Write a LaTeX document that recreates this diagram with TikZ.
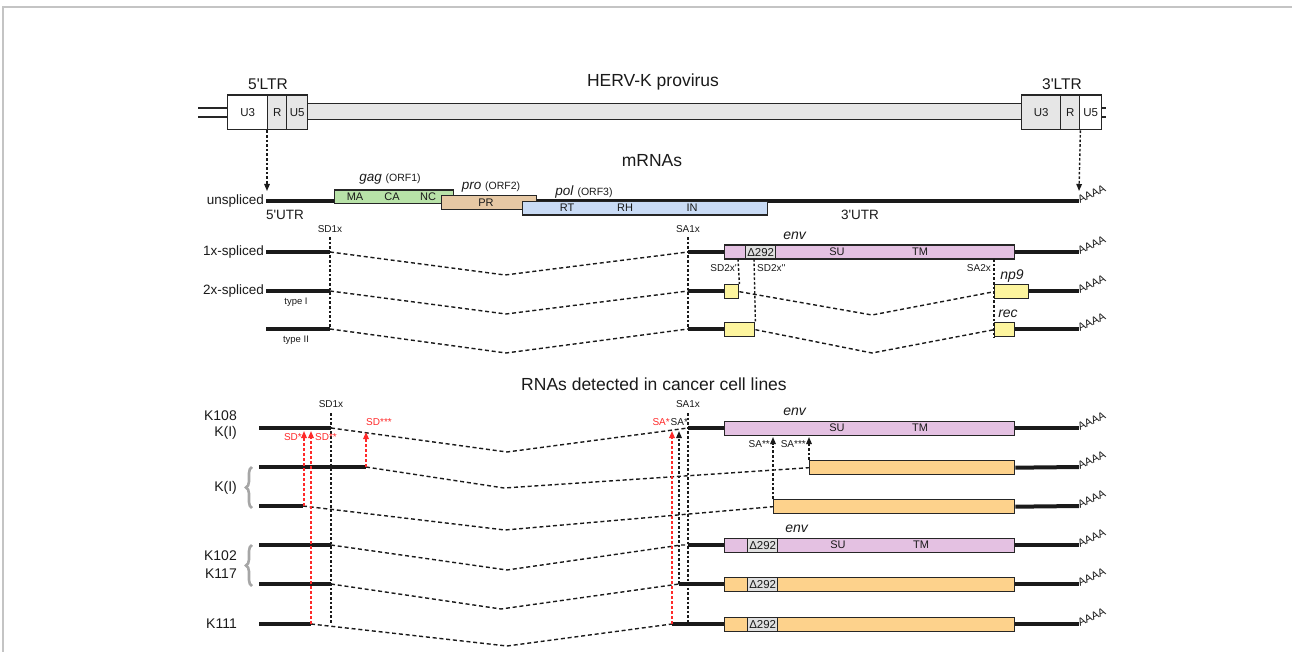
\documentclass[tikz,border=0pt]{standalone}
\usepackage{fontspec}
\setmainfont{Liberation Sans}
\usetikzlibrary{arrows.meta,decorations.pathreplacing}

\definecolor{ink}{HTML}{1A1A1A}
\definecolor{edge}{HTML}{262626}
\definecolor{ltr}{HTML}{E6E6E6}
\definecolor{gagc}{HTML}{B8E2A8}
\definecolor{proc}{HTML}{E6C8A4}
\definecolor{polc}{HTML}{C9DBF5}
\definecolor{envc}{HTML}{E4C1E2}
\definecolor{exonc}{HTML}{FDF59E}
\definecolor{orc}{HTML}{FDD28C}
\definecolor{delc}{HTML}{E0E0E0}
\definecolor{alt}{HTML}{FF2A2A}
\definecolor{brc}{HTML}{A6A6A6}
\definecolor{framec}{HTML}{C4C4C4}

\newcommand\fz[1]{\fontsize{#1pt}{#1pt}\selectfont}
\newcommand\ap{\textquotesingle}

\begin{document}
\begin{tikzpicture}[x=1pt,y=-1pt,
  rna/.style={line width=4pt,color=ink},
  box/.style={draw=edge,line width=1.4pt,inner sep=0pt,anchor=north west},
  lbl/.style={inner sep=0pt,text=ink},
  splice/.style={line width=1.4pt,color=ink,dash pattern=on 4pt off 2.8pt},
  site/.style={line width=1.4pt,color=ink,dash pattern=on 2.6pt off 2pt},
  sitearrow/.style={site,-{Triangle[length=7pt,width=5.5pt]}},
  altarrow/.style={line width=1.5pt,color=alt,dash pattern=on 3pt off 2pt,-{Triangle[length=7pt,width=5.5pt]}},
  polyA/.style={inner sep=0pt,anchor=south west,rotate=26,font=\fz{11},text=ink},
  kbrace/.style={decorate,decoration={brace,amplitude=6pt},draw=brc,line width=2.6pt}]

\useasboundingbox (0,0) rectangle (1292,652);
\draw[framec,line width=1.2pt] (3,652) -- (3,7) -- (1292,7);

% ---------------- provirus ----------------
\node[lbl,font=\fz{17.5}] (tprov) at (653,82) {HERV-K provirus};
\draw[edge,line width=1.4pt] (198,108) coordinate (fl1) -- (227,108);
\draw[edge,line width=1.4pt] (198,117) coordinate (fl2) -- (227,117);
\draw[edge,line width=1.4pt] (1101,108) -- (1106,108) coordinate (fr1);
\draw[edge,line width=1.4pt] (1101,117) -- (1106,117) coordinate (fr2);
\node[box,fill=ltr,minimum width=714pt,minimum height=16pt] (body) at (307,103) {};
\node[box,fill=white,minimum width=40pt,minimum height=34.5pt] (U3a) at (227,94.5) {};
\node[box,fill=ltr,minimum width=19pt,minimum height=34.5pt] (Ra) at (267,94.5) {};
\node[box,fill=ltr,minimum width=21pt,minimum height=34.5pt] (U5a) at (286,94.5) {};
\node[box,fill=ltr,minimum width=39pt,minimum height=34.5pt] (U3b) at (1021,94.5) {};
\node[box,fill=ltr,minimum width=19pt,minimum height=34.5pt] (Rb) at (1060,94.5) {};
\node[box,fill=white,minimum width=22pt,minimum height=34.5pt] (U5b) at (1079,94.5) {};
\foreach \n/\t in {U3a/U3,Ra/R,U5a/U5,U3b/U3,Rb/R,U5b/U5}
  \node[lbl,font=\fz{11.5}] at (\n.center) {\t};
\node[lbl,font=\fz{15.5}] (ltr5) at (268,84) {5\ap LTR};
\node[lbl,font=\fz{15.5}] (ltr3) at (1062,84) {3\ap LTR};

% ---------------- mRNAs ----------------
\node[lbl,font=\fz{17.5}] (tmrna) at (652,161) {mRNAs};
\coordinate (us) at (266,201);
\coordinate (ue) at (1079,201);
\draw[sitearrow] (Ra.south west) -- (267,191);
\draw[sitearrow] (Rb.south east) -- (1079,191);
\draw[rna] (us) -- (ue);
\node[box,fill=gagc,minimum width=119pt,minimum height=13.5pt] (gag) at (334,189.5) {};
\node[box,fill=proc,minimum width=95pt,minimum height=14pt] (pro) at (441,195) {};
\node[box,fill=polc,minimum width=245pt,minimum height=13.5pt] (pol) at (522,201) {};
\foreach \x/\t in {355/MA,392/CA,428/NC} \node[lbl,font=\fz{11}] at (\x,196.5) {\t};
\node[lbl,font=\fz{11}] at (486,202.5) {PR};
\foreach \x/\t in {567/RT,625/RH,692/IN} \node[lbl,font=\fz{11}] at (\x,208) {\t};
\node[lbl,font=\fz{13.5}] at (390,179) {\textit{gag} {\fz{10.5}(ORF1)}};
\node[lbl,font=\fz{13.5}] at (491,187) {\textit{pro} {\fz{10.5}(ORF2)}};
\node[lbl,font=\fz{13.5}] at (584,192) {\textit{pol} {\fz{10.5}(ORF3)}};
\node[lbl,font=\fz{13.5},anchor=east] at (264,201) {unspliced};
\node[lbl,font=\fz{13.5}] at (285,215) {5\ap UTR};
\node[lbl,font=\fz{13.5}] at (860,215) {3\ap UTR};
\node[polyA] at (1080,204) {AAAA};

% splice sites
\draw[site] (330,237) coordinate (sd1t) -- (330,330) coordinate (sd1b);
\draw[site] (688,237) coordinate (sa1t) -- (688,329) coordinate (sa1b);
\node[lbl,font=\fz{10}] at (330,229) {SD1x};
\node[lbl,font=\fz{10}] at (688,229) {SA1x};

% 1x-spliced
\coordinate (a1) at (266,252); \coordinate (a2) at (330,252);
\coordinate (a3) at (688,252); \coordinate (a4) at (1079,252);
\draw[rna] (a1) -- (a2); \draw[rna] (a3) -- (a4);
\draw[splice] (a2) -- (505,275) coordinate (am) -- (a3);
\node[box,fill=envc,minimum width=290pt,minimum height=14pt] (env1) at (724,244.5) {};
\node[box,fill=delc,minimum width=30pt,minimum height=14pt] (del1) at (745,244.5) {};
\node[lbl,font=\fz{11.5}] at (del1.center) {Δ292};
\node[lbl,font=\fz{11}] at (837,252) {SU};
\node[lbl,font=\fz{11}] at (920,252) {TM};
\node[lbl,font=\fz{14}] at (795,236) {\textit{env}};
\node[lbl,font=\fz{13.5},anchor=east] at (264,252) {1x-spliced};
\node[polyA] at (1080,255) {AAAA};

% 2x-spliced, type I
\coordinate (b1) at (266,291); \coordinate (b2) at (330,291);
\coordinate (b3) at (688,291); \coordinate (b4) at (1079,291);
\draw[rna] (b1) -- (b2); \draw[rna] (b3) -- (724,291); \draw[rna] (1028,291) -- (b4);
\draw[splice] (b2) -- (506,314) -- (b3);
\node[box,fill=exonc,minimum width=14pt,minimum height=14pt] (x1) at (724,284) {};
\node[box,fill=exonc,minimum width=34pt,minimum height=14pt] (np9) at (994,284) {};
\draw[splice] (x1.east) -- (872,315) -- (np9.west);
\node[lbl,font=\fz{13.5},anchor=east] at (264,291) {2x-spliced};
\node[lbl,font=\fz{9.5}] at (296,302) {type I};
\node[lbl,font=\fz{14}] at (1012,276) {\textit{np9}};
\node[polyA] at (1080,294) {AAAA};

% 2x-spliced, type II
\coordinate (c1) at (266,329); \coordinate (c2) at (330,329);
\coordinate (c3) at (688,329); \coordinate (c4) at (1079,329);
\draw[rna] (c1) -- (c2); \draw[rna] (c3) -- (724,329); \draw[rna] (1014,329) -- (c4);
\draw[splice] (c2) -- (506,353) -- (c3);
\node[box,fill=exonc,minimum width=30pt,minimum height=14pt] (x2) at (724,322) {};
\node[box,fill=exonc,minimum width=20pt,minimum height=14pt] (rec) at (994,322) {};
\draw[splice] (x2.east) -- (872,353) -- (rec.west);
\node[lbl,font=\fz{9.5}] at (296,340) {type II};
\node[lbl,font=\fz{14}] at (1008,314) {\textit{rec}};
\node[polyA] at (1080,332) {AAAA};

% second splice sites
\draw[site] (738,259) -- (x1.north east);
\draw[site] (754,259) -- (x2.north east);
\draw[site] (994,259) -- (rec.south west);
\node[lbl,font=\fz{10},anchor=east] at (737,268) {SD2x\ap};
\node[lbl,font=\fz{10},anchor=west] at (757,268) {SD2x\ap\ap};
\node[lbl,font=\fz{10},anchor=east] at (991,268) {SA2x};

% ---------------- cancer cell lines ----------------
\node[lbl,font=\fz{17.5}] (tcan) at (654,384) {RNAs detected in cancer cell lines};
\draw[site] (331,413) -- (331,624);
\draw[site] (688,413) -- (688,624);
\node[lbl,font=\fz{10}] at (331,404) {SD1x};
\node[lbl,font=\fz{10}] at (688,404) {SA1x};

% K108 / K(I)
\coordinate (d1) at (259,428); \coordinate (d2) at (331,428);
\coordinate (d3) at (688,428); \coordinate (d4) at (1079,428);
\draw[rna] (d1) -- (d2); \draw[rna] (d3) -- (d4);
\draw[splice] (d2) -- (507,452) -- (d3);
\node[box,fill=envc,minimum width=290pt,minimum height=14pt] (env2) at (724,421) {};
\node[lbl,font=\fz{11}] at (837,428) {SU};
\node[lbl,font=\fz{11}] at (920,428) {TM};
\node[lbl,font=\fz{14}] at (795,412) {\textit{env}};
\node[polyA] at (1080,431) {AAAA};

% K(I), first variant
\coordinate (e1) at (259,467); \coordinate (e2) at (366,467); \coordinate (e4) at (1079,467);
\draw[rna] (e1) -- (e2);
\node[box,fill=orc,minimum width=205pt,minimum height=14pt] (o1) at (809,460) {};
\draw[rna] (o1.east) -- (e4);
\draw[splice] (e2) -- (504,488) -- (o1.west);
\node[polyA] at (1080,470) {AAAA};

% K(I), second variant
\coordinate (f1) at (259,506); \coordinate (f2) at (303,506); \coordinate (f4) at (1079,506);
\draw[rna] (f1) -- (f2);
\node[box,fill=orc,minimum width=241pt,minimum height=14pt] (o2) at (773,499) {};
\draw[rna] (o2.east) -- (f4);
\draw[splice] (f2) -- (505,530) -- (o2.west);
\node[polyA] at (1080,509) {AAAA};

% K102 / K117
\coordinate (g1) at (259,545); \coordinate (g2) at (331,545);
\coordinate (g3) at (688,545); \coordinate (g4) at (1079,545);
\draw[rna] (g1) -- (g2); \draw[rna] (g3) -- (g4);
\draw[splice] (g2) -- (507,570) -- (681,545) -- (g3);
\node[box,fill=envc,minimum width=290pt,minimum height=14pt] (env3) at (724,538) {};
\node[box,fill=delc,minimum width=30pt,minimum height=14pt] (del3) at (747,538) {};
\node[lbl,font=\fz{11.5}] at (del3.center) {Δ292};
\node[lbl,font=\fz{11}] at (838,545) {SU};
\node[lbl,font=\fz{11}] at (921,545) {TM};
\node[lbl,font=\fz{14}] at (797,529) {\textit{env}};
\node[polyA] at (1080,548) {AAAA};

\coordinate (h1) at (259,584); \coordinate (h2) at (331,584);
\coordinate (h3) at (679,584); \coordinate (h4) at (1079,584);
\draw[rna] (h1) -- (h2); \draw[rna] (h3) -- (h4);
\draw[splice] (h2) -- (501,609) -- (h3);
\node[box,fill=orc,minimum width=290pt,minimum height=14pt] (o3) at (724,577) {};
\node[box,fill=delc,minimum width=30pt,minimum height=14pt] (del4) at (747,577) {};
\node[lbl,font=\fz{11.5}] at (del4.center) {Δ292};
\node[polyA] at (1080,587) {AAAA};

% K111
\coordinate (k1) at (259,624); \coordinate (k2) at (311,624);
\coordinate (k3) at (672,624); \coordinate (k4) at (1079,624);
\draw[rna] (k1) -- (k2); \draw[rna] (k3) -- (k4);
\draw[splice] (k2) -- (507,646) -- (k3);
\node[box,fill=orc,minimum width=290pt,minimum height=14pt] (o4) at (724,617) {};
\node[box,fill=delc,minimum width=30pt,minimum height=14pt] (del5) at (747,617) {};
\node[lbl,font=\fz{11.5}] at (del5.center) {Δ292};
\node[polyA] at (1080,627) {AAAA};

% alternative donor / acceptor sites
\draw[altarrow] (304,506) -- (304,431);
\draw[altarrow] (k2) -- (311,431);
\draw[altarrow] (e2) -- (366,432);
\draw[altarrow] (k3) -- (672,431);
\draw[sitearrow] (h3) -- (679,431);
\draw[sitearrow] (o2.north west) -- (773,437);
\draw[sitearrow] (o1.north west) -- (809,437);
\node[lbl,font=\fz{10},text=alt,anchor=east] at (302,437) {SD*};
\node[lbl,font=\fz{10},text=alt,anchor=west] at (315,437) {SD**};
\node[lbl,font=\fz{10},text=alt] at (379,422) {SD***};
\node[lbl,font=\fz{10},text=alt,anchor=east] at (670,422) {SA*};
\node[lbl,font=\fz{10},anchor=west] at (670.5,422) {SA*};
\node[lbl,font=\fz{10},anchor=east] at (770,444) {SA**};
\node[lbl,font=\fz{10},anchor=east] at (806,444) {SA***};

% cell line labels
\node[lbl,font=\fz{14},anchor=east] at (237,416) {K108};
\node[lbl,font=\fz{14},anchor=east] at (237,433) {K(I)};
\node[lbl,font=\fz{14},anchor=east] at (237,488) {K(I)};
\node[lbl,font=\fz{14},anchor=east] at (237,556) {K102};
\node[lbl,font=\fz{14},anchor=east] at (237,574) {K117};
\node[lbl,font=\fz{14},anchor=east] at (237,624) {K111};
\draw[kbrace] (252,508) -- (252,467);
\draw[kbrace] (252,586) -- (252,545);
\end{tikzpicture}
\end{document}
